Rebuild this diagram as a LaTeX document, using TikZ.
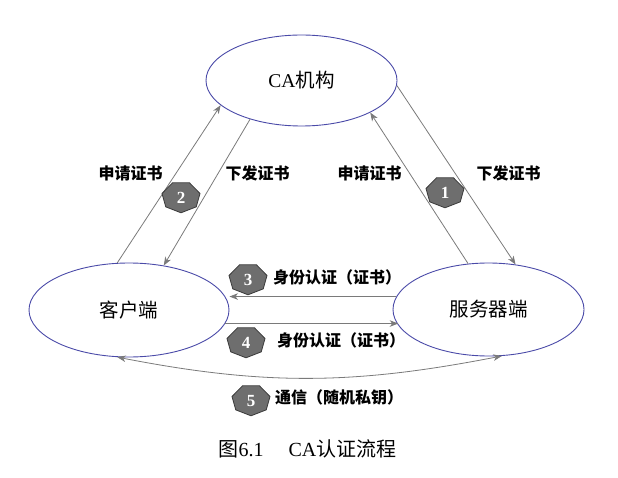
\documentclass[tikz,border=0pt]{standalone}
\usepackage{fontspec}
\setmainfont{Liberation Serif}
\newfontfamily\cjk{Noto Sans CJK SC}
\usetikzlibrary{shapes.geometric,arrows.meta,calc}
\definecolor{ellblue}{HTML}{4A4AA8}
\definecolor{linegray}{HTML}{7A7A7A}
\definecolor{badgefill}{HTML}{6E6E6E}
\definecolor{badgeedge}{HTML}{3A3A3A}
\tikzset{
  party/.style={draw=ellblue, line width=0.9pt, ellipse, inner sep=0pt, font=\fontsize{19.5}{21}\selectfont},
  conn/.style={draw=linegray, line width=0.8pt, -{Stealth[length=8.5pt,width=6.5pt,inset=2.5pt]}},
  lbl/.style={font=\cjk\bfseries\fontsize{16}{18}\selectfont, inner sep=0pt},
  badgenum/.style={text=white, font=\bfseries\fontsize{17}{19}\selectfont, inner sep=0pt},
  badgeshape/.style={fill=badgefill, draw=badgeedge, line width=0.8pt}
}
\newcommand{\hept}[4]{%
  \draw[badgeshape]
    ($(#2,#3)+({19.5*cos(270)},{-15.8*sin(270)})$)
    \foreach \k in {1,...,6} { -- ($(#2,#3)+({19.5*cos(270+\k*360/7)},{-15.8*sin(270+\k*360/7)})$) } -- cycle;
  \node[badgenum] (#1) at (#2,#3+0.8) {#4};
}
\begin{document}
\begin{tikzpicture}[x=1pt,y=-1pt]
\useasboundingbox (0,0) rectangle (618,478);
% parties
\node[party, minimum width=191pt, minimum height=91pt] (ca) at (301.5,80.5) {CA{\cjk 机构}};
\node[party, minimum width=200pt, minimum height=94pt] (cli) at (129,310) {\cjk 客户端};
\node[party, minimum width=191pt, minimum height=93pt] (srv) at (488.5,309.5) {\cjk 服务器端};
% CA <-> client
\draw[conn] (cli.104.3) -- (ca.197.5);
\draw[conn] (ca.217.5) -- (cli.52.3);
% CA <-> server
\draw[conn] (srv.114.4) -- (ca.335.3);
\draw[conn] (ca.357.3) -- (srv.59.9);
% server <-> client
\draw[conn] (srv.172.4) -- (srv.172.4 -| cli.east);
\draw[conn] (cli.-8.6) -- (cli.-8.6 -| srv.190);
\draw[conn, {Stealth[length=8.5pt,width=6.5pt,inset=2.5pt]}-{Stealth[length=8.5pt,width=6.5pt,inset=2.5pt]}]
  (cli.256.5) to[out=-11,in=191] (srv.286.6);
% labels
\node[lbl] (l1) at (130.5,173) {申请证书};
\node[lbl] (l2) at (257.5,173) {下发证书};
\node[lbl] (l3) at (369.5,173) {申请证书};
\node[lbl] (l4) at (508.5,173) {下发证书};
\node[lbl, anchor=west] (t3) at (273,277) {身份认证（证书）};
\node[lbl, anchor=west] (t4) at (277,340) {身份认证（证书）};
\node[lbl, anchor=west] (t5) at (275,397) {通信（随机私钥）};
% badges
\hept{b1}{445}{192}{1}
\hept{b2}{181}{197}{2}
\hept{b3}{248}{279}{3}
\hept{b4}{246}{342}{4}
\hept{b5}{251}{400}{5}
% caption
\node[font=\fontsize{20}{22}\selectfont, inner sep=0pt] (cap) at (307.5,449) {{\cjk 图}6.1\hspace{1.25em}CA{\cjk 认证流程}};
\end{tikzpicture}
\end{document}
